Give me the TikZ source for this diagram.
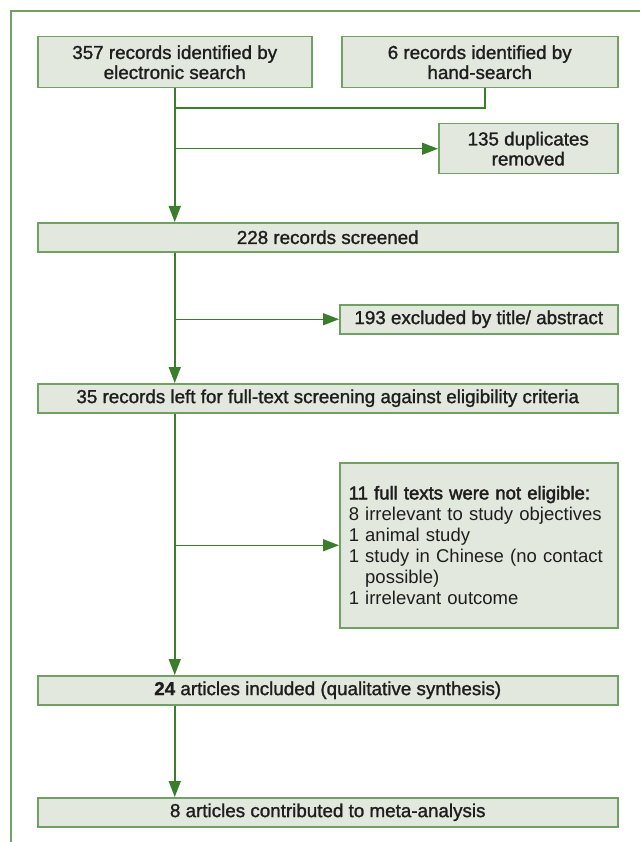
\documentclass[tikz,border=0pt]{standalone}
\usepackage{fontspec}
\setmainfont{Liberation Sans}
\newfontfamily\boxfont[FakeBold=1.3]{Liberation Sans}
\newfontfamily\listfont{Liberation Sans}
\newfontfamily\listboldfont[FakeBold=2.2]{Liberation Sans}
\usetikzlibrary{arrows.meta}
\definecolor{boxfill}{RGB}{226,232,222}
\definecolor{boxline}{RGB}{112,160,98}
\definecolor{arrowgreen}{RGB}{58,125,42}
\definecolor{textdark}{RGB}{30,30,30}
\begin{document}
\begin{tikzpicture}[x=1pt,y=-1pt,
  box/.style={draw=boxline, fill=boxfill, line width=1.5pt, inner sep=0pt,
    anchor=north west, align=center, text=textdark,
    font=\boxfont\fontsize{18.8}{20}\selectfont},
  listbox/.style={box, align=left, inner xsep=9pt, anchor=north west,
    font=\listfont\fontsize{18.5}{21}\selectfont},
  flow/.style={draw=arrowgreen, line width=1.5pt,
    -{Triangle[length=16pt,width=12pt]}},
  link/.style={draw=arrowgreen, line width=1.5pt}]
\useasboundingbox (0,0) rectangle (640,842);
\fill[white] (0,0) rectangle (640,842);
\coordinate (fa) at (11,842);
\coordinate (fb) at (11,11);
\coordinate (fc) at (640,11);
\draw[boxline, line width=1.5pt] (fa) -- (fb) -- (fc);

\node[box, minimum width=274pt, minimum height=51pt] (n357) at (37,36)
  {357 records identified by\\electronic search};
\node[box, minimum width=276pt, minimum height=51pt] (n6) at (341,36)
  {6 records identified by\\hand-search};
\node[box, minimum width=179pt, minimum height=50pt] (ndup) at (438,123)
  {135 duplicates\\removed};
\node[box, minimum width=580pt, minimum height=29pt] (n228) at (37,222)
  {228 records screened};
\node[box, minimum width=278pt, minimum height=29pt] (n193) at (339,304)
  {193 excluded by title/ abstract};
\node[box, minimum width=580pt, minimum height=29pt] (n35) at (37,383)
  {35 records left for full-text screening against eligibility criteria};
\node[listbox, minimum width=278pt, minimum height=165pt, text width=260pt] (n11) at (339,462)
  {\mbox{\listboldfont 11 full texts were not eligible:}\\
   8 irrelevant to study objectives\\
   1 animal study\\
   1 study in Chinese (no contact\\
   \phantom{1} possible)\\
   1 irrelevant outcome};
\node[box, minimum width=580pt, minimum height=29pt] (n24) at (37,675)
  {\textbf{24} articles included (qualitative synthesis)};
\node[box, minimum width=580pt, minimum height=29pt] (n8) at (37,797)
  {8 articles contributed to meta-analysis};

\coordinate (j2) at (485,108);
\draw[link] (j2 |- n6.south) -- (j2) -- (j2 -| n357.south);
\draw[flow] (n357.south) -- (n357.south |- n228.north);
\draw[flow] (n357.south |- ndup.west) -- (ndup.west);
\draw[flow] (n228.south -| n357.south) -- (n357.south |- n35.north);
\draw[flow] (n357.south |- n193.west) -- (n193.west);
\draw[flow] (n35.south -| n357.south) -- (n357.south |- n24.north);
\draw[flow] (n357.south |- n11.west) -- (n11.west);
\draw[flow] (n24.south -| n357.south) -- (n357.south |- n8.north);
\end{tikzpicture}
\end{document}
